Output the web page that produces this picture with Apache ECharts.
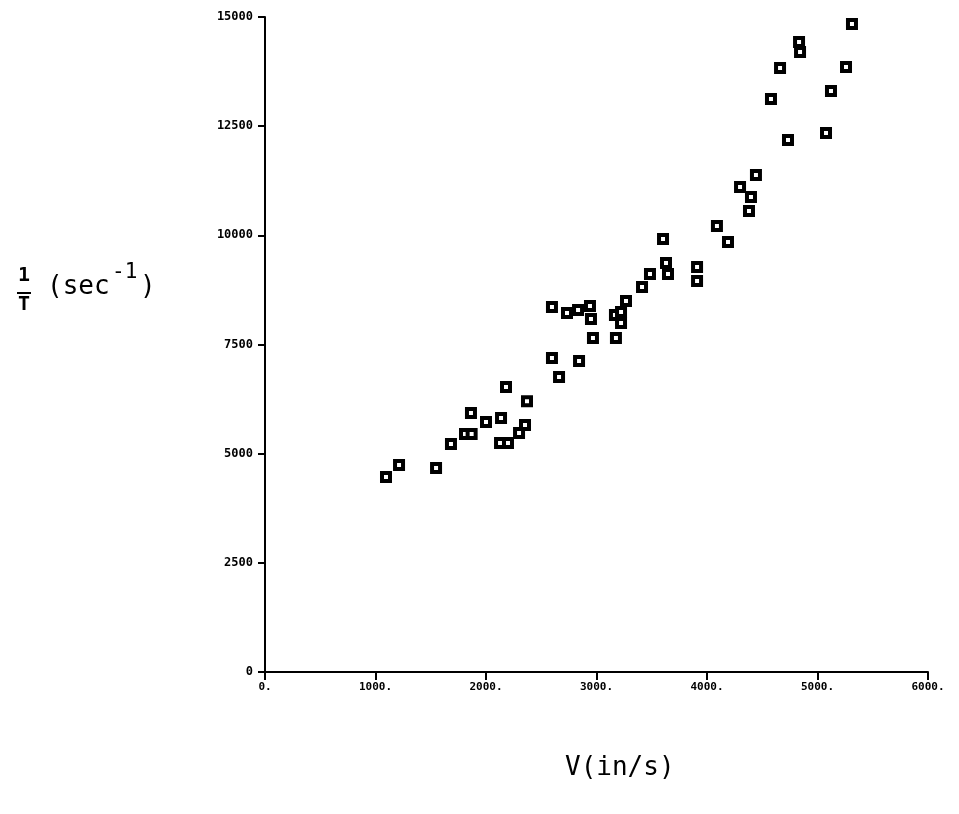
<!DOCTYPE html>
<html>
<head>
<meta charset="utf-8">
<script src="https://cdn.jsdelivr.net/npm/echarts@6/dist/echarts.min.js"></script>
<style>
  html, body { margin: 0; padding: 0; background: #fff; }
  #chart { width: 959px; height: 814px; }
</style>
</head>
<body>
<div id="chart"></div>
<script>
// V (in/s) and 1/T (sec^-1)
var speeds = [
    1095, 1213, 1548, 1683, 1810, 1870, 1864, 2000, 2136, 2127, 2199, 2299, 2353, 2371,
    2181, 2597, 2597, 2661, 2733, 2833, 2842, 2941, 2950, 2968, 3167, 3176, 3222, 3222,
    3267, 3412, 3484, 3602, 3629, 3647, 3910, 3910, 4090, 4190, 4299, 4380, 4398, 4443,
    4579, 4661, 4733, 4833, 4842, 4932, 5077, 5122, 5258, 5312
];
var rates = [
    4466, 4740, 4672, 5221, 5450, 5450, 5931, 5725, 5817, 5244, 5244, 5473, 5656, 6200,
    6527, 8359, 7191, 6756, 8221, 8290, 7122, 8382, 8084, 7649, 8176, 7649, 8244, 7992,
    8496, 8817, 9115, 9916, 9367, 9115, 9275, 8954, 10214, 9847, 11107, 10557, 10878, 11382,
    13122, 13832, 12183, 14427, 14198, 15069, 12344, 13305, 13855, 14840
];
var xTicks = [0, 1000, 2000, 3000, 4000, 5000, 6000];
var yTicks = [0, 2500, 5000, 7500, 10000, 12500, 15000];

var points = speeds.map(function(v, i) { return [v, rates[i]]; });

var chart = echarts.init(document.getElementById('chart'));

chart.setOption({
    animation: false,
    backgroundColor: '#fff',
    grid: { left: 265, right: 31, top: 17, bottom: 142 },
    xAxis: {
        type: 'value',
        min: xTicks[0],
        max: xTicks[xTicks.length - 1],
        interval: 1000,
        axisLine: { show: true, onZero: false, lineStyle: { color: '#000', width: 2 } },
        axisTick: { show: true, length: 8, lineStyle: { color: '#000', width: 2 } },
        axisLabel: {
            margin: 10,
            color: '#000',
            fontFamily: 'DejaVu Sans Mono',
            fontWeight: 'bold',
            fontSize: 11,
            formatter: function(v) { return v + '.'; }
        },
        splitLine: { show: false }
    },
    yAxis: {
        type: 'value',
        min: yTicks[0],
        max: yTicks[yTicks.length - 1],
        interval: 2500,
        axisLine: { show: true, onZero: false, lineStyle: { color: '#000', width: 2 } },
        axisTick: { show: true, length: 7, lineStyle: { color: '#000', width: 2 } },
        axisLabel: {
            margin: 12,
            color: '#000',
            fontFamily: 'DejaVu Sans Mono',
            fontWeight: 'bold',
            fontSize: 12,
            formatter: function(v) { return String(v); }
        },
        splitLine: { show: false }
    },
    graphic: [
        // y axis title: 1/T (sec^-1)
        { type: 'text', left: 18, top: 266, style: { text: '1', font: 'bold 20px DejaVu Sans Mono', fill: '#000' } },
        { type: 'rect', shape: { x: 17, y: 292, width: 14, height: 2 }, style: { fill: '#000' } },
        { type: 'text', left: 18, top: 295, style: { text: 'T', font: 'bold 20px DejaVu Sans Mono', fill: '#000' } },
        { type: 'text', left: 47, top: 274, style: { text: '(sec', font: '26px DejaVu Sans Mono', fill: '#000' } },
        { type: 'text', left: 112, top: 262, style: { text: '-1', font: '21px DejaVu Sans Mono', fill: '#000' } },
        { type: 'text', left: 140, top: 274, style: { text: ')', font: '26px DejaVu Sans Mono', fill: '#000' } },
        // x axis title
        { type: 'text', left: 565, top: 755, style: { text: 'V(in/s)', font: '26px DejaVu Sans Mono', fill: '#000' } }
    ],
    series: [{
        type: 'scatter',
        data: points,
        symbol: 'rect',
        symbolSize: 8,
        itemStyle: { color: '#fff', borderColor: '#000', borderWidth: 4, opacity: 1 }
    }]
});
</script>
</body>
</html>
